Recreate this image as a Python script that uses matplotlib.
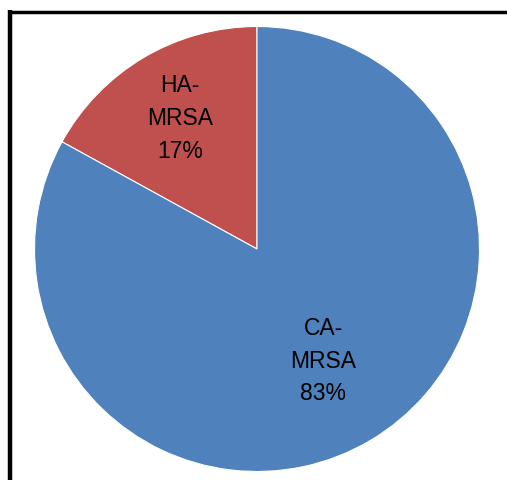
import numpy as np
import matplotlib
matplotlib.use("Agg")
import matplotlib.pyplot as plt
from matplotlib.lines import Line2D

labels = ["HA-\nMRSA", "CA-\nMRSA"]
shares = [17, 83]
colors = ["#C0504D", "#4F81BD"]
label_dist = [0.68, 0.585]

W, H = 507, 480
fig = plt.figure(figsize=(W / 100, H / 100), dpi=100)
ax = fig.add_axes([0, 0, 1, 1])

cx, cy, r = 257, 249, 222.5
# y axis is inverted below, so clockwise in data = counter-clockwise on screen
wedges, _ = ax.pie(shares, colors=colors, startangle=-90, counterclock=False,
                   center=(cx, cy), radius=r, frame=True,
                   wedgeprops=dict(edgecolor="white", linewidth=0.8))
ax.set_xlim(0, W)
ax.set_ylim(H, 0)
ax.set_aspect("equal")
ax.axis("off")

for w, lab, share, d in zip(wedges, labels, shares, label_dist):
    mid = np.deg2rad((w.theta1 + w.theta2) / 2)
    x = cx + d * r * np.cos(mid)
    y = cy + d * r * np.sin(mid)
    ax.text(x, y, f"{lab}\n{share}%", ha="center", va="center",
            fontsize=16.5, family="Liberation Sans", linespacing=1.55)

# partial black frame (top and left edges)
fig.add_artist(Line2D([8 / W, 1], [1 - 11.5 / H] * 2, color="black", lw=2.5,
                      transform=fig.transFigure, solid_capstyle="butt"))
fig.add_artist(Line2D([10.3 / W] * 2, [0, 1 - 10 / H], color="black", lw=3.2,
                      transform=fig.transFigure, solid_capstyle="butt"))

fig.savefig("out.png", dpi=100, facecolor="white")
